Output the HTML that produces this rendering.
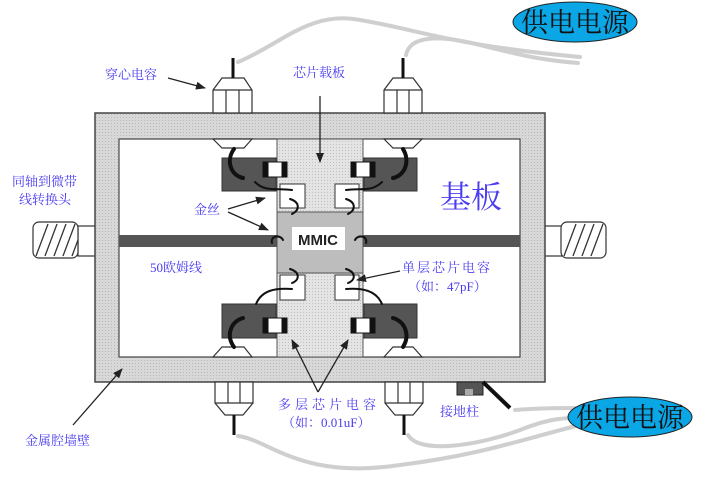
<!DOCTYPE html>
<html><head><meta charset="utf-8"><style>
html,body{margin:0;padding:0;background:#fff;width:716px;height:482px;overflow:hidden}
svg{display:block}
.t{font-family:"Liberation Serif","Noto Serif CJK SC",serif;fill:#4a3cf0;font-size:13px}
</style></head><body>
<svg width="716" height="482" viewBox="0 0 716 482" xmlns="http://www.w3.org/2000/svg">
<defs>
<pattern id="dot" width="3" height="3" patternUnits="userSpaceOnUse"><rect width="3" height="3" fill="#d8d8d8"/><rect width="1" height="1" fill="#b8b8b8"/></pattern>
<pattern id="dot2" width="3" height="3" patternUnits="userSpaceOnUse"><rect width="3" height="3" fill="#e4e4e4"/><rect width="1" height="1" fill="#c0c0c0"/></pattern>
<marker id="ar" markerWidth="10" markerHeight="8" refX="9" refY="4" orient="auto" markerUnits="userSpaceOnUse"><path d="M0,0 L10,4 L0,8 Z" fill="#222"/></marker>
</defs>
<g fill="none" stroke="#cfcfcf" stroke-width="4" stroke-linecap="round">
<path d="M238,62 C280,45 310,10 360,20 C420,30 450,45 580,57"/>
<path d="M406,55 C410,35 440,35 480,45 C520,55 540,60 578,63"/>
<path d="M238,436 C270,440 300,480 400,465 C480,455 520,440 580,425"/>
<path d="M408,435 C420,455 480,445 520,430 C545,420 560,418 575,418"/>
<path d="M515,410 C540,408 560,408 575,408"/>
</g>
<ellipse cx="575" cy="22" rx="62" ry="20" fill="#0aa6e6" stroke="#222"/>
<text x="575" y="32" font-size="27" text-anchor="middle" font-family="Liberation Serif,'Noto Serif CJK SC',serif" fill="#111">供电电源</text>
<ellipse cx="630" cy="417" rx="62" ry="20" fill="#0aa6e6" stroke="#222"/>
<text x="630" y="427" font-size="27" text-anchor="middle" font-family="Liberation Serif,'Noto Serif CJK SC',serif" fill="#111">供电电源</text>
<g stroke="#333" fill="#fff" stroke-width="1.2">
<rect x="78" y="226" width="18" height="30"/>
<rect x="544" y="226" width="18" height="30"/>
<rect x="33" y="222" width="45" height="36" rx="6"/>
<rect x="561" y="222" width="45" height="36" rx="6"/>
</g>
<g stroke="#333" fill="none" stroke-width="1.3">
<path d="M36,256 L48,224 M45,256 L57,224 M54,256 L66,224 M63,256 L75,224 M72,256 L78,240"/>
<path d="M564,256 L576,224 M573,256 L585,224 M582,256 L594,224 M591,256 L603,224"/>
</g>
<rect x="95" y="113" width="450" height="269" fill="url(#dot)" stroke="#444" stroke-width="1.5"/>
<rect x="119" y="139" width="401" height="218" fill="#fff" stroke="#444" stroke-width="1.2"/>
<rect x="119" y="235" width="401" height="12" fill="#555"/>
<rect x="277" y="139" width="86" height="218" fill="url(#dot2)" stroke="#555"/>
<rect x="277" y="212" width="86" height="61" fill="#bdbdbd" stroke="#555"/>
<rect x="292" y="227" width="53" height="23" fill="#fff"/>
<text x="318" y="245" font-family="Liberation Sans,sans-serif" font-weight="bold" font-size="15" text-anchor="middle" fill="#222">MMIC</text>
<g fill="#555" stroke="#333">
<rect x="222" y="158" width="54" height="33"/><rect x="364" y="158" width="53" height="33"/>
<rect x="222" y="304" width="54" height="34"/><rect x="364" y="304" width="53" height="34"/>
</g>
<g fill="#fff" stroke="#333">
<rect x="280" y="184" width="25" height="24"/><rect x="335" y="184" width="24" height="24"/>
<rect x="280" y="275" width="25" height="25"/><rect x="335" y="275" width="24" height="25"/>
</g>
<g stroke="#111" stroke-width="1">
<rect x="263" y="162" width="24" height="15" fill="#fff"/><rect x="263" y="162" width="5" height="15" fill="#111"/><rect x="282" y="162" width="5" height="15" fill="#111"/>
<rect x="351" y="162" width="24" height="15" fill="#fff"/><rect x="351" y="162" width="5" height="15" fill="#111"/><rect x="370" y="162" width="5" height="15" fill="#111"/>
<rect x="263" y="318" width="24" height="15" fill="#fff"/><rect x="263" y="318" width="5" height="15" fill="#111"/><rect x="282" y="318" width="5" height="15" fill="#111"/>
<rect x="351" y="318" width="24" height="15" fill="#fff"/><rect x="351" y="318" width="5" height="15" fill="#111"/><rect x="370" y="318" width="5" height="15" fill="#111"/>
</g>
<g stroke="#333" fill="#fff" stroke-width="1.2">
<path d="M213,113 V90 L222,78 H244 L252,90 V113 Z"/><path d="M226,113 V90 M239,113 V90 M213,90 H252"/>
<path d="M384,113 V90 L393,78 H413 L422,90 V113 Z"/><path d="M397,113 V90 M409,113 V90 M384,90 H422"/>
<path d="M213,139 L222,148 H244 L252,139 Z"/><path d="M384,139 L393,148 H413 L422,139 Z"/>
<path d="M213,357 L222,347 H244 L252,357 Z"/><path d="M384,357 L393,347 H413 L422,357 Z"/>
<path d="M215,382 V403 L225,415 H243 L253,403 V382 Z"/><path d="M228,382 V403 M240,382 V403 M215,403 H253"/>
<path d="M385,382 V403 L395,415 H413 L423,403 V382 Z"/><path d="M398,382 V403 M410,382 V403 M385,403 H423"/>
</g>
<g stroke="#111" stroke-width="3">
<path d="M233,78 V58"/><path d="M403,78 V58"/><path d="M234,415 V435"/><path d="M404,415 V435"/>
</g>
<rect x="457" y="382" width="26" height="13" fill="#555" stroke="#222"/>
<rect x="465" y="389" width="8" height="6" fill="#aaa"/>
<path d="M483,382 L510,408" stroke="#111" stroke-width="4"/>
<g fill="none" stroke="#111" stroke-linecap="round">
<path d="M234,149 C226,160 230,175 243,178" stroke-width="4"/>
<path d="M403,149 C410,160 406,175 393,178" stroke-width="4"/>
<path d="M234,347 C226,336 230,322 243,318" stroke-width="4"/>
<path d="M403,347 C410,336 406,322 393,318" stroke-width="4"/>
<g stroke-width="2">
<path d="M255,182 C265,192 275,188 292,190"/><path d="M382,182 C372,192 362,188 346,190"/>
<path d="M256,304 C262,290 275,288 292,289"/><path d="M382,304 C376,290 362,288 346,289"/>
<path d="M290,199 C300,202 300,210 292,214"/><path d="M346,199 C356,202 356,210 348,214"/>
<path d="M290,269 C300,272 300,280 292,283"/><path d="M346,269 C356,272 356,280 348,283"/>
<path d="M272,243 C270,236 280,234 283,240"/><path d="M355,240 C358,234 368,236 366,243"/>
</g>
</g>
<g stroke="#222" stroke-width="1.3" fill="none" marker-end="url(#ar)">
<path d="M168,78 L205,88"/>
<path d="M320,96 L320,162"/>
<path d="M228,209 L265,198"/>
<path d="M228,212 L268,230"/>
<path d="M400,271 L357,280"/>
<path d="M318,392 L292,340"/>
<path d="M318,392 L348,340"/>
<path d="M73,425 L122,369"/>
</g>
<text class="t" x="105" y="79">穿心电容</text>
<text class="t" x="293" y="77">芯片载板</text>
<text class="t" x="12" y="186">同轴到微带</text>
<text class="t" x="19" y="204">线转换头</text>
<text class="t" x="194" y="214">金丝</text>
<text class="t" x="440" y="208" style="font-size:31px">基板</text>
<text class="t" x="150" y="272">50欧姆线</text>
<text class="t" x="402" y="272" letter-spacing="2">单层芯片电容</text>
<text class="t" x="408" y="291">（如：47pF）</text>
<text class="t" x="278" y="409" letter-spacing="4">多层芯片电容</text>
<text class="t" x="282" y="427">（如：0.01uF）</text>
<text class="t" x="440" y="416">接地柱</text>
<text class="t" x="25" y="445">金属腔墙壁</text>
</svg>
</body></html>
